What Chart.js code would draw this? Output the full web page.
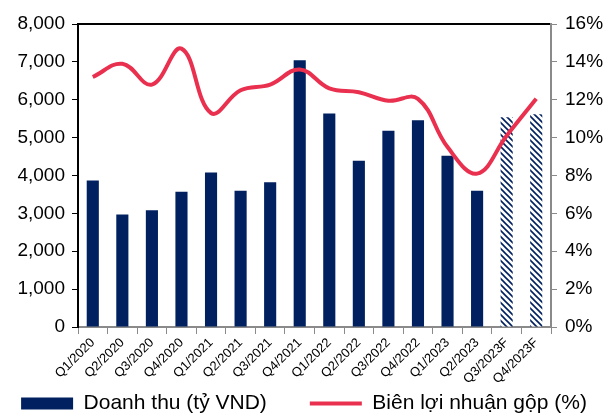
<!DOCTYPE html>
<html>
<head>
<meta charset="utf-8">
<script src="https://cdn.jsdelivr.net/npm/chart.js@4/dist/chart.umd.min.js"></script>
<style>
  html, body { margin: 0; padding: 0; background: #fff; }
  #wrap { width: 614px; height: 417px; }
</style>
</head>
<body>
<div id="wrap"><canvas id="chart" width="614" height="417"></canvas></div>
<script>
const quarters = ['Q1/2020', 'Q2/2020', 'Q3/2020', 'Q4/2020', 'Q1/2021', 'Q2/2021', 'Q3/2021', 'Q4/2021',
    'Q1/2022', 'Q2/2022', 'Q3/2022', 'Q4/2022', 'Q1/2023', 'Q2/2023', 'Q3/2023F', 'Q4/2023F'];
const revenue = [3870, 2970, 3080, 3570, 4080, 3600, 3820, 7040, 5640, 4390, 5180, 5460, 4520, 3600, 5540, 5620];
const grossMargin = [13.2, 13.9, 12.8, 14.7, 11.3, 12.5, 12.8, 13.6, 12.6, 12.4, 11.95, 12.05, 9.5, 8.1, 10.1, 12.05];
const isForecast = [false, false, false, false, false, false, false, false, false, false, false, false, false, false, true, true];
const leftTicks = [0, 1000, 2000, 3000, 4000, 5000, 6000, 7000, 8000];
const rightTicks = [0, 2, 4, 6, 8, 10, 12, 14, 16];

const NAVY = '#002060';
const RED = '#e9304f';
const FONT = '"Liberation Sans", Arial, sans-serif';

// diagonal hatch for forecast bars
function makeHatch() {
    const c = document.createElement('canvas');
    c.width = 6; c.height = 6;
    const g = c.getContext('2d');
    g.fillStyle = '#fff';
    g.fillRect(0, 0, 6, 6);
    g.strokeStyle = NAVY;
    g.lineWidth = 1.6;
    g.beginPath();
    g.moveTo(-1, -1); g.lineTo(7, 7);
    g.moveTo(-4, 2); g.lineTo(4, 10);
    g.moveTo(2, -4); g.lineTo(10, 4);
    g.stroke();
    return g.createPattern(c, 'repeat');
}
const hatch = makeHatch();

// pull the legend up so it sits just under the rotated labels
const legendNudge = {
    id: 'legendNudge',
    afterLayout(chart) {
        chart.legend.top -= 33;
        chart.legend.bottom -= 33;
    }
};

new Chart(document.getElementById('chart'), {
    type: 'bar',
    data: {
        labels: quarters,
        datasets: [
            {
                type: 'bar',
                label: 'Doanh thu (tỷ VND)',
                data: revenue,
                yAxisID: 'y',
                order: 1,
                backgroundColor: isForecast.map(f => f ? hatch : NAVY),
                borderWidth: 0,
                barPercentage: 0.41,
                categoryPercentage: 1,
                pointStyle: 'rect'
            },
            {
                type: 'line',
                label: 'Biên lợi nhuận gộp (%)',
                data: grossMargin,
                yAxisID: 'y1',
                order: 0,
                borderColor: RED,
                backgroundColor: RED,
                borderWidth: 4,
                tension: 0.4,
                pointRadius: 0,
                pointStyle: 'line'
            }
        ]
    },
    plugins: [legendNudge],
    options: {
        responsive: false,
        animation: false,
        layout: { padding: { top: 24, left: -25, right: -19, bottom: -40 } },
        plugins: {
            tooltip: { enabled: false },
            legend: {
                position: 'bottom',
                labels: {
                    usePointStyle: true,
                    pointStyleWidth: 52,
                    boxHeight: 12,
                    padding: 43,
                    color: '#000',
                    font: { family: FONT, size: 21 },
                    sort: (a, b) => a.datasetIndex - b.datasetIndex
                }
            }
        },
        scales: {
            x: {
                position: 'bottom',
                offset: true,
                grid: { offset: true, drawOnChartArea: false, drawTicks: true, tickLength: 7, color: '#8a8a8a' },
                border: { color: '#8a8a8a', width: 2 },
                ticks: { color: '#000', font: { family: FONT, size: 13 }, minRotation: 45, maxRotation: 45, padding: 1, autoSkip: false },
                afterFit: s => { s.height = 56; }
            },
            xTop: {
                type: 'category',
                position: 'top',
                labels: quarters,
                grid: { display: false, drawTicks: false },
                border: { color: '#000', width: 2 },
                ticks: { display: false },
                afterFit: s => { s.height = 0; }
            },
            y: {
                position: 'left',
                min: 0,
                max: 8000,
                afterBuildTicks: s => { s.ticks = leftTicks.map(v => ({ value: v })); },
                grid: { drawOnChartArea: false, drawTicks: true, tickLength: 6, color: '#000' },
                border: { color: '#000', width: 2 },
                ticks: { color: '#000', font: { family: FONT, size: 19 }, padding: 7, callback: v => v.toLocaleString('en-US') },
                afterFit: s => { s.width = 103; }
            },
            y1: {
                position: 'right',
                min: 0,
                max: 16,
                afterBuildTicks: s => { s.ticks = rightTicks.map(v => ({ value: v })); },
                grid: { drawOnChartArea: false, drawTicks: true, tickLength: 6, color: '#8a8a8a' },
                border: { color: '#8a8a8a', width: 2 },
                ticks: { color: '#000', font: { family: FONT, size: 19 }, padding: 8, callback: v => v + '%' },
                afterFit: s => { s.width = 82; }
            }
        }
    }
});
</script>
</body>
</html>
